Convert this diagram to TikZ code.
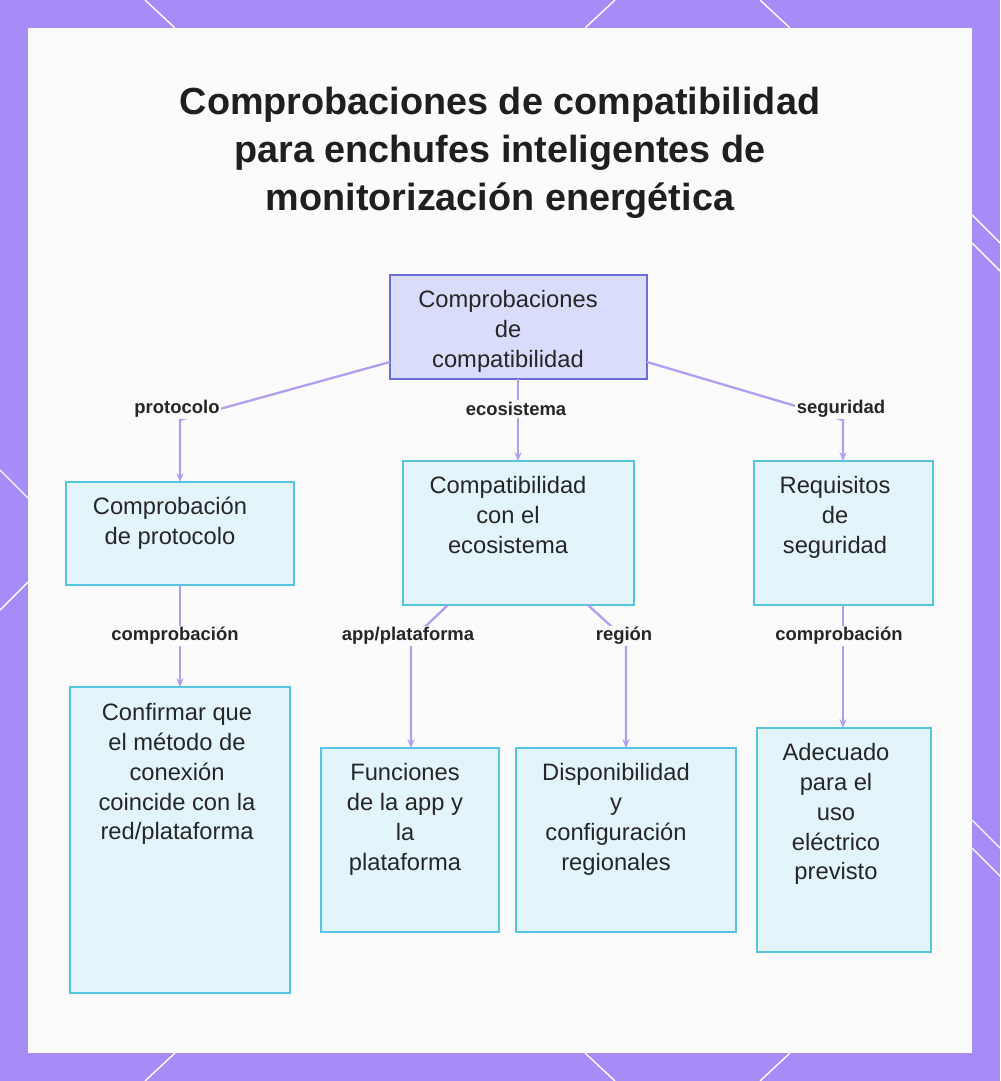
\documentclass[tikz,border=0pt]{standalone}
\usepackage{fontspec}
\setmainfont{Liberation Sans}
\usetikzlibrary{arrows.meta}
\definecolor{frame}{HTML}{A68CF7}
\definecolor{rootf}{HTML}{DADCFC}
\definecolor{rootb}{HTML}{6A6ED0}
\definecolor{boxf}{HTML}{E3F5FB}
\definecolor{boxb}{HTML}{55C4DF}
\definecolor{edge}{HTML}{B29DF0}
\begin{document}
\begin{tikzpicture}[x=0.02cm,y=-0.02cm,
 box/.style={draw=boxb,fill=boxf,line width=1.2pt},
 rootbox/.style={draw=rootb,fill=rootf,line width=1.2pt},
 txt/.style={align=center,font=\fontsize{13.5}{17}\selectfont,text=black!85,anchor=north},
 lab/.style={font=\fontsize{10.5}{12}\selectfont\bfseries,text=black!85,fill=white!97!gray,inner sep=1pt},
 con/.style={draw=edge,line width=1.3pt},
 arr/.style={con,-{Stealth[length=5pt,width=4pt]}}]
\useasboundingbox (0,0) rectangle (1000,1081);
\fill[frame] (0,0) rectangle (1000,1081);
\fill[white!97!gray] (28,28) rectangle (972,1053);
\foreach \a/\b/\c/\d in {145/0/175/28, 760/0/790/28, 585/28/615/0, 972/215/1000/243, 972/243/1000/271, 0/470/28/498, 0/610/28/582, 972/820/1000/848, 972/848/1000/876, 145/1081/175/1053, 585/1053/615/1081, 760/1081/790/1053}
  \draw[white,line width=0.8pt] (\a,\b) -- (\c,\d);
\node[font=\fontsize{21.5}{27.5}\selectfont\bfseries,align=center,text=black!88] (title) at (500,153) {Comprobaciones de compatibilidad\\para enchufes inteligentes de\\monitorización energética};
% boxes
\path[rootbox] (390,275) rectangle (647,379); \coordinate (root) at (518,327);
\node[txt] (troot) at (508,284) {Comprobaciones\\de\\compatibilidad};
\path[box] (66,482) rectangle (294,585);
\node[txt] (tprot) at (170,491) {Comprobación\\de protocolo};
\path[box] (403,461) rectangle (634,605);
\node[txt] (teco) at (508,470) {Compatibilidad\\con el\\ecosistema};
\path[box] (754,461) rectangle (933,605);
\node[txt] (tseg) at (835,470) {Requisitos\\de\\seguridad};
\path[box] (70,687) rectangle (290,993);
\node[txt] (tconf) at (177,697) {Confirmar que\\el método de\\conexión\\coincide con la\\red/plataforma};
\path[box] (321,748) rectangle (499,932);
\node[txt] (tfun) at (405,757) {Funciones\\de la app y\\la\\plataforma};
\path[box] (516,748) rectangle (736,932);
\node[txt] (tdis) at (616,757) {Disponibilidad\\y\\configuración\\regionales};
\path[box] (757,728) rectangle (931,952);
\node[txt] (tade) at (836,737) {Adecuado\\para el\\uso\\eléctrico\\previsto};
% coordinates
\coordinate (r1) at (390,362); \coordinate (r2) at (518,379); \coordinate (r3) at (647,362);
\coordinate (p) at (180,482); \coordinate (e) at (518,461); \coordinate (s) at (843,461);
\coordinate (pb) at (180,585); \coordinate (c) at (180,687);
\coordinate (e1) at (448,605); \coordinate (f) at (411,748);
\coordinate (e2) at (588,605); \coordinate (d) at (626,748);
\coordinate (sb) at (843,605); \coordinate (a) at (843,728);
\draw[arr] (r1) -- (180,420) -- (p);
\draw[arr] (r2) -- (e);
\draw[arr] (r3) -- (843,420) -- (s);
\draw[arr] (pb) -- (c);
\draw[arr] (e1) -- (411,640) -- (f);
\draw[arr] (e2) -- (626,640) -- (d);
\draw[arr] (sb) -- (a);
\node[lab] (l1) at (177,409) {protocolo};
\node[lab] (l2) at (516,409) {ecosistema};
\node[lab] (l3) at (841,409) {seguridad};
\node[lab] (l4) at (175,636) {comprobación};
\node[lab] (l5) at (408,636) {app/plataforma};
\node[lab] (l6) at (624,636) {región};
\node[lab] (l7) at (839,636) {comprobación};
\end{tikzpicture}
\end{document}
